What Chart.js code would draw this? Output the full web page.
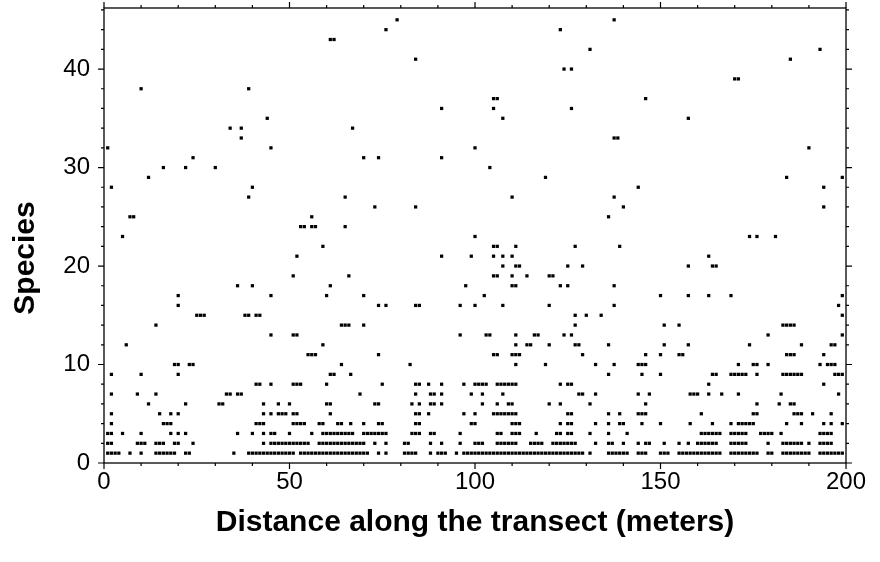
<!DOCTYPE html>
<html><head><meta charset="utf-8">
<script src="https://cdn.jsdelivr.net/npm/chart.js@4/dist/chart.umd.min.js"></script>
<style>html,body{margin:0;padding:0;background:#fff}#wrap{width:880px;height:562px;position:relative}</style>
</head><body><div id="wrap"><canvas id="c" width="880" height="562"></canvas></div>
<script>
// Distances (m) at which each species number was recorded
const sp01 = [1,2,3,4,7,10,14,15,16,17,18,19,22,23,35,39,40,41,42,43,44,45,46,47,48,49,50,51,53,54,55,56,57,58,59,60,61,62,63,64,65,66,67,68,69,70,71,74,76,81,82,83,84,88,90,91,92,95,97,98,99,100,101,102,103,104,105,106,107,108,109,110,111,112,113,114,115,116,117,118,119,120,121,122,123,124,125,126,127,128,129,131,136,137,138,139,140,141,144,145,146,150,151,152,155,156,157,158,159,160,161,162,163,164,165,166,169,170,171,172,173,174,175,176,179,180,183,184,185,186,187,188,189,190,193,194,195,196,197,198,199];
const sp02 = [1,2,9,10,11,14,15,16,19,20,24,43,45,46,47,48,49,50,51,52,53,54,55,58,59,60,61,62,63,64,65,66,67,68,69,70,73,76,81,82,88,91,96,100,101,102,106,107,108,109,110,111,115,116,117,118,121,122,123,124,125,126,127,132.5,136,137,140,144,146,147,151,155,157.5,160,161,162,163,164,165,169,170,171,172,173,179,183,184,185,186,187,188,190,193,194,195,196];
const sp03 = [1,2,5,10,18,20,22,36,40,43,45,46,50,56,59,60,61,62,63,64,65,66,67,70,71,72,73,74,75,76,83,84,85,88,89,96,106,107,110,111,112,116.5,122,123,125,126,131,136,141,161,162,163,164,165,166,169,170,171,172,173,177,178,179,180,182.5,193,194,195,196];
const sp04 = [2,16,17,18,41,42,43,51,52,53,54,58,59,63,64,66.5,70,74,75,84,85,99,100,110,111,112,123,125,126,132.5,136,139,140,145,150,158,164,169,171,172,173,174,175,184,188,194,196,199];
const sp05 = [2,15,18,20,43,45,47,48,49,51,52,61,84,85,87.5,97,100,105,106,107,108,109,110,111,125,126,136,139,144,145,146,161,175,176,186,187,188,191,196];
const sp06 = [12,22,31,32,43,47,50,60,61,73,74,83,85,88,89,91,102,106,109,110,120,123,131,146,176,182,185,186];
const sp07 = [2,9,14,33,34,36,37,69,84,88,89,91,99,102,107.5,128,129,132.5,144,147,158,159,160,163,166.5,171,182.5,198];
const sp08 = [41,42,45,51,52,53,60,75,84,85,87.5,91,97,100,101,102,103,106,107,108,109,110,111,123,125,126,163,194];
const sp09 = [2,10,20,61,62,66.5,136,145,150,164,165,169,170,171,172,173,176,183,184,185,186,187,188,197,198,199];
const sp10 = [19,20,23,24,64,82.5,111,119,132.5,137.5,144,145,146,171,175,176,179,193,195,196,197];
const sp11 = [55,56,57,74,105,106,110,111,112,129,146,150,155,156,184,185,186,194];
const sp12 = [6,59,111,114,115,120,127,128,136,151,157.5,174,188,196,197];
const sp13 = [45,51,52,96,103,104,111,116,117,124,126,179,199];
const sp14 = [14,64,65,66,70,127,151,155,183,184,185,186];
const sp15 = [25,26,27,38,39,41,42,127,130,134,199];
const sp16 = [20,74,76,84,85,96,100,107.5,120,137.5,198];
const sp17 = [20,45,60,70,102.5,150,157.5,163,169,199];
const sp18 = [36,40,61,97.5,110,111,123,125,137.5];
const sp19 = [51,66,105,106,110,114,120,121];
const sp20 = [107.5,111,112,125,129,157.5,164,165];
const sp21 = [52,91,99,105,107.5,110,163];
const sp22 = [59,105,106,111,127,139];
const sp23 = [5,100,174,176,181];
const sp24 = [53,54,56,57,65];
const sp25 = [7,8,56,136];
const sp26 = [73,84,140,194];
const sp27 = [39,65,110,137.5];
const sp28 = [2,40,144,194];
const sp29 = [12,119,184,199];
const sp30 = [16,22,30,104];
const sp31 = [24,70,74,91];
const sp32 = [1,45,100,190];
const sp33 = [37,137.5,138.5];
const sp34 = [34,37,67];
const sp35 = [44,107.5,157.5];
const sp36 = [91,105,126];
const sp37 = [105,106,146];
const sp38 = [10,39];
const sp39 = [170,171];
const sp40 = [124,126];
const sp41 = [84,185];
const sp42 = [131,193];
const sp43 = [61,62];
const sp44 = [76,123];
const sp45 = [79,137.5];

const speciesRows = [
  [1, sp01],[2, sp02],[3, sp03],[4, sp04],[5, sp05],[6, sp06],[7, sp07],[8, sp08],[9, sp09],[10, sp10],
  [11, sp11],[12, sp12],[13, sp13],[14, sp14],[15, sp15],[16, sp16],[17, sp17],[18, sp18],[19, sp19],[20, sp20],
  [21, sp21],[22, sp22],[23, sp23],[24, sp24],[25, sp25],[26, sp26],[27, sp27],[28, sp28],[29, sp29],[30, sp30],
  [31, sp31],[32, sp32],[33, sp33],[34, sp34],[35, sp35],[36, sp36],[37, sp37],[38, sp38],[39, sp39],[40, sp40],
  [41, sp41],[42, sp42],[43, sp43],[44, sp44],[45, sp45]
];

const xTickLabels = [0, 50, 100, 150, 200];
const yTickLabels = [0, 10, 20, 30, 40];
const xTitle = 'Distance along the transect (meters)';
const yTitle = 'Species';

const points = [];
speciesRows.forEach(([s, xs]) => xs.forEach(x => points.push({x: x, y: s})));

const FONT = "'Liberation Sans', Arial, sans-serif";

const framePlugin = {
  id: 'frame',
  afterDraw(chart) {
    const {ctx, chartArea: a, scales: {x, y}} = chart;
    ctx.save();
    ctx.strokeStyle = '#000';
    ctx.lineWidth = 1.3;
    ctx.strokeRect(a.left, a.top, a.right - a.left, a.bottom - a.top);
    ctx.lineWidth = 1.2;
    ctx.beginPath();
    for (let v = 0; v <= 200; v += 10) {
      const px = x.getPixelForValue(v);
      const len = v % 50 === 0 ? 6 : 3;
      ctx.moveTo(px, a.bottom); ctx.lineTo(px, a.bottom + len);
      ctx.moveTo(px, a.top); ctx.lineTo(px, a.top - len);
    }
    for (let v = 0; v <= 46; v += 2) {
      const py = y.getPixelForValue(v);
      const len = v % 10 === 0 ? 6 : 3;
      ctx.moveTo(a.left, py); ctx.lineTo(a.left - len, py);
      ctx.moveTo(a.right, py); ctx.lineTo(a.right + len, py);
    }
    ctx.stroke();
    // axis titles
    ctx.fillStyle = '#000';
    ctx.font = "bold 30px " + FONT;
    ctx.textAlign = 'center';
    ctx.textBaseline = 'middle';
    ctx.fillText(xTitle, (a.left + a.right) / 2, 523);
    ctx.translate(26, 258);
    ctx.rotate(-Math.PI / 2);
    ctx.fillText(yTitle, 0, 0);
    ctx.restore();
  }
};

new Chart(document.getElementById('c').getContext('2d'), {
  type: 'scatter',
  data: { datasets: [{
    data: points,
    pointStyle: 'rect',
    pointRadius: 2.3,
    pointHoverRadius: 2.3,
    pointBorderWidth: 0,
    backgroundColor: '#000',
    borderColor: '#000'
  }]},
  options: {
    responsive: false,
    animation: false,
    devicePixelRatio: 1,
    events: [],
    layout: { padding: { left: 0, right: 34, top: 8, bottom: 0 } },
    plugins: { legend: { display: false }, tooltip: { enabled: false } },
    scales: {
      x: {
        type: 'linear', min: 0, max: 200,
        afterBuildTicks: s => { s.ticks = xTickLabels.map(v => ({ value: v })); },
        afterFit: s => { s.height = 99; s.paddingLeft = 0; s.paddingRight = 0; },
        grid: { display: false, drawTicks: false },
        border: { display: false },
        ticks: { color: '#000', font: { family: FONT, size: 24 }, padding: 5, maxRotation: 0, autoSkip: false }
      },
      y: {
        type: 'linear', min: 0, max: 46.2,
        afterBuildTicks: s => { s.ticks = yTickLabels.map(v => ({ value: v })); },
        afterFit: s => { s.width = 104; s.paddingTop = 0; s.paddingBottom = 0; },
        grid: { display: false, drawTicks: false },
        border: { display: false },
        ticks: { color: '#000', font: { family: FONT, size: 24 }, padding: 14, autoSkip: false }
      }
    }
  },
  plugins: [framePlugin]
});
</script>
</body></html>
